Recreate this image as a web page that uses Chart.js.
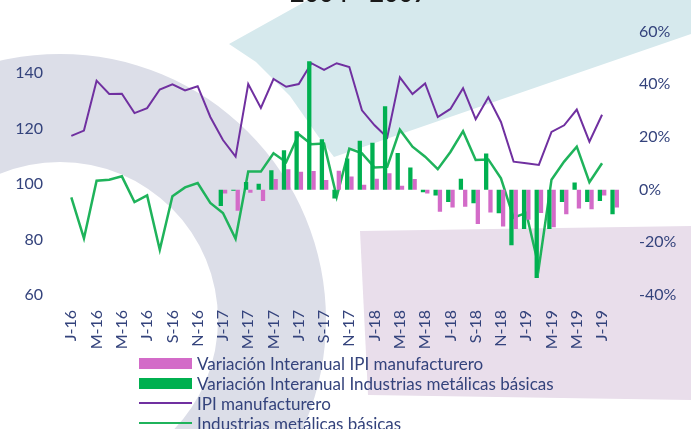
<!DOCTYPE html>
<html>
<head>
<meta charset="utf-8">
<script src="https://cdn.jsdelivr.net/npm/chart.js@4.4.1/dist/chart.umd.min.js"></script>
<style>
  body { margin: 0; overflow: hidden; background: #fff; }
  #wrap { position: relative; width: 691px; height: 429px; overflow: hidden; }
  #grafico { display: block; }
  #titulo { position: absolute; left: 290px; top: -23px; font: bold 25px Lato, sans-serif; line-height: 30px; color: #1a1a1a; white-space: nowrap; }
  #leyenda { position: absolute; left: 139px; top: 353px; font: 17px Lato, sans-serif; color: #34437c; }
  #leyenda div { height: 20px; white-space: nowrap; display: flex; align-items: center; }
  #leyenda span.caja { display: inline-block; width: 53px; margin-right: 5px; }
</style>
</head>
<body>
<div id="wrap">
  <canvas id="grafico" width="691" height="429"></canvas>
  <div id="titulo">2004 - 2007</div>
  <div id="leyenda"></div>
</div>
<script>
// meses ene-2016 .. ago-2019
const meses = [
  'J-16','F-16','M-16','A-16','M-16','J-16','J-16','A-16','S-16','O-16','N-16','D-16',
  'J-17','F-17','M-17','A-17','M-17','J-17','J-17','A-17','S-17','O-17','N-17','D-17',
  'J-18','F-18','M-18','A-18','M-18','J-18','J-18','A-18','S-18','O-18','N-18','D-18',
  'J-19','F-19','M-19','A-19','M-19','J-19','J-19','A-19'
];

// indices (eje izquierdo)
const ipiManufacturero = [
  117.4, 119.3, 137.3, 132.5, 132.6, 125.6, 127.4, 134.1, 136.0, 133.8, 135.3, 124.2,
  115.9, 109.9, 136.1, 127.5, 137.9, 135.1, 136.1, 143.6, 141.2, 143.6, 142.2, 126.6,
  121.2, 116.8, 138.5, 132.5, 136.3, 124.2, 127.1, 134.6, 123.4, 131.3, 122.4, 108.1,
  107.5, 106.9, 118.8, 121.2, 126.9, 115.3, 125.0, null
];
const industriasMetalicas = [
  95.2, 80.4, 101.2, 101.6, 102.8, 93.5, 95.9, 76.3, 95.6, 98.8, 100.4, 93.2,
  89.6, 80.3, 104.5, 104.5, 111.1, 107.9, 118.0, 114.4, 114.6, 95.4, 112.8, 111.1,
  106.0, 106.2, 119.6, 113.5, 109.9, 105.4, 111.6, 119.1, 108.7, 108.9, 102.1, 87.9,
  89.6, 70.0, 101.6, 108.1, 113.5, 100.7, 107.5, null
];

// variaciones interanuales en % (eje derecho)
const varIpi = [
  null, null, null, null, null, null, null, null, null, null, null, null,
  -1.5, -8.0, -1.2, -4.3, 4.0, 7.7, 6.8, 7.1, 3.7, 7.2, 5.0, 1.9,
  4.1, 6.2, 1.5, 4.0, -1.5, -8.4, -6.8, -6.5, -13.0, -8.7, -14.0, -14.9,
  -11.4, -8.9, -14.3, -9.3, -7.2, -7.4, -2.2, -6.8
];
const varMetalicas = [
  null, null, null, null, null, null, null, null, null, null, null, null,
  -6.2, -0.4, 2.9, 2.2, 7.4, 15.0, 22.2, 48.7, 19.1, -3.4, 11.8, 18.6,
  17.8, 31.7, 13.9, 8.4, -1.0, -2.2, -4.7, 4.1, -5.2, 13.7, -9.0, -21.1,
  -14.9, -33.5, -14.9, -4.7, 2.7, -4.7, -4.3, -9.3
];

const colorTexto = '#34437c';
Chart.defaults.font.family = 'Lato, sans-serif';
Chart.defaults.font.size = 16;

// formas decorativas del fondo
const fondo = {
  id: 'fondo',
  beforeDraw(chart) {
    const c = chart.ctx;
    c.save();
    c.fillStyle = '#dcdee8';
    c.beginPath();
    c.arc(60, 320, 266, 0, Math.PI * 2);
    c.arc(60, 320, 158, 0, Math.PI * 2, true);
    c.fill();

    c.fillStyle = '#d6e9ed';
    c.beginPath();
    c.moveTo(308, 0); c.lineTo(229, 44); c.lineTo(256, 62); c.lineTo(290, 96);
    c.lineTo(318, 136); c.lineTo(334, 157); c.lineTo(691, 34); c.lineTo(691, 0);
    c.closePath();
    c.fill();

    c.fillStyle = '#e9deeb';
    c.beginPath();
    c.moveTo(360, 231); c.lineTo(691, 226); c.lineTo(691, 400); c.lineTo(368, 395);
    c.closePath();
    c.fill();
    c.restore();
  }
};

const sinRejilla = { display: false, drawTicks: false };

const grafico = new Chart(document.getElementById('grafico').getContext('2d'), {
  type: 'bar',
  data: {
    labels: meses,
    datasets: [
      {
        type: 'bar', label: 'Variación Interanual IPI manufacturero', data: varIpi,
        backgroundColor: '#d36bc8', yAxisID: 'yDer', order: 2,
        barPercentage: 1, categoryPercentage: 0.68
      },
      {
        type: 'bar', label: 'Variación Interanual Industrias metálicas básicas', data: varMetalicas,
        backgroundColor: '#00b050', yAxisID: 'yDer', order: 1,
        barPercentage: 1, categoryPercentage: 0.68
      },
      {
        type: 'line', label: 'IPI manufacturero', data: ipiManufacturero,
        borderColor: '#7030a0', borderWidth: 2, pointRadius: 0, yAxisID: 'yIzq', order: 3
      },
      {
        type: 'line', label: 'Industrias metálicas básicas', data: industriasMetalicas,
        borderColor: '#1fb35b', borderWidth: 2.5, pointRadius: 0, yAxisID: 'yIzq', order: 4
      }
    ]
  },
  options: {
    responsive: false,
    animation: false,
    devicePixelRatio: 1,
    layout: { padding: { top: 29 } },
    plugins: { legend: { display: false }, tooltip: { enabled: false } },
    scales: {
      x: {
        grid: sinRejilla,
        border: { display: false },
        ticks: {
          autoSkip: false, minRotation: 90, maxRotation: 90, padding: 15, color: colorTexto,
          callback: function (v, i) { return i % 2 === 0 ? this.getLabelForValue(v) : ''; }
        },
        afterFit: s => { s.height = 134; }
      },
      yIzq: {
        position: 'left', min: 60, max: 155,
        grid: sinRejilla,
        border: { display: false },
        ticks: { stepSize: 20, padding: 22, color: colorTexto },
        afterBuildTicks: s => { s.ticks = s.ticks.filter(t => t.value <= 140); },
        afterFit: s => { s.width = 65; }
      },
      yDer: {
        position: 'right', min: -40, max: 60,
        grid: sinRejilla,
        border: { display: false },
        ticks: { stepSize: 20, padding: 18, color: colorTexto, callback: v => v + '%' },
        afterFit: s => { s.width = 70; }
      }
    }
  },
  plugins: [fondo]
});

// leyenda en HTML, una serie por fila
const leyenda = document.getElementById('leyenda');
grafico.data.datasets.forEach(ds => {
  const fila = document.createElement('div');
  const caja = document.createElement('span');
  caja.className = 'caja';
  if (ds.type === 'bar') {
    caja.style.height = '11px';
    caja.style.background = ds.backgroundColor;
  } else {
    caja.style.height = ds.borderWidth + 'px';
    caja.style.background = ds.borderColor;
  }
  fila.appendChild(caja);
  fila.appendChild(document.createTextNode(ds.label));
  leyenda.appendChild(fila);
});
</script>
</body>
</html>
